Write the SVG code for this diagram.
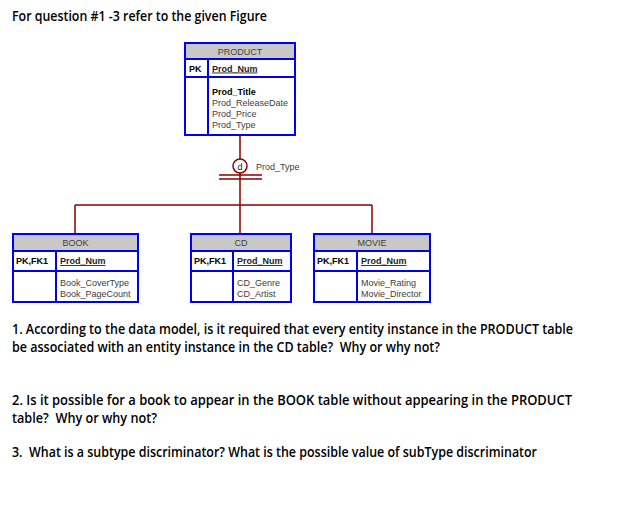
<svg xmlns="http://www.w3.org/2000/svg" width="624" height="522" viewBox="0 0 624 522">
<style>
.q{font-family:"Open Sans","Liberation Sans",sans-serif;font-weight:600;font-size:13.5px;fill:#000;white-space:pre}
.box{fill:#fff;stroke:#0000ee;stroke-width:2}
.hdr{fill:#c8c8c8;stroke:#0000ee;stroke-width:2}
.sep{stroke:#0000ee;stroke-width:2;fill:none}
.t{font-family:"Liberation Sans",Arial,sans-serif;font-size:9px;fill:#404040}
.h{font-family:"Liberation Sans",Arial,sans-serif;font-size:9px;fill:#404040;text-anchor:middle}
.k{font-family:"Liberation Sans",Arial,sans-serif;font-size:9px;font-weight:bold;fill:#000}
.u{font-family:"Liberation Sans",Arial,sans-serif;font-size:9px;font-weight:bold;fill:#222;text-decoration:underline}
.ln{stroke:#8b0000;stroke-width:1.5;fill:none}
</style>
<rect width="624" height="522" fill="#fff"/>
<text class="q" x="12" y="21" textLength="255" lengthAdjust="spacingAndGlyphs">For question #1 -3 refer to the given Figure</text>

<g id="connectors">
<line class="ln" x1="240" y1="135" x2="240" y2="159"/>
<line class="ln" x1="240" y1="173" x2="240" y2="234"/>
<circle class="ln" cx="240" cy="166" r="7" fill="#fff"/>
<line class="ln" x1="219" y1="175" x2="262" y2="175"/>
<line class="ln" x1="219" y1="179" x2="262" y2="179"/>
<line class="ln" x1="75" y1="205" x2="372" y2="205"/>
<line class="ln" x1="75" y1="205" x2="75" y2="234"/>
<line class="ln" x1="372" y1="205" x2="372" y2="234"/>
<text x="240" y="169.5" font-family="Liberation Sans, Arial, sans-serif" font-size="9" fill="#222" text-anchor="middle">d</text>
<text class="t" x="256" y="170">Prod_Type</text>
</g>

<g id="product">
<rect class="box" x="185" y="43" width="110" height="92"/>
<rect class="hdr" x="185" y="43" width="110" height="16"/>
<line class="sep" x1="185" y1="77" x2="295" y2="77"/>
<line class="sep" x1="208" y1="59" x2="208" y2="135"/>
<text class="h" x="240" y="54.5">PRODUCT</text>
<text class="k" x="189" y="71.5">PK</text>
<text class="u" x="212" y="71.5">Prod_Num</text>
<text class="k" x="212" y="95">Prod_Title</text>
<text class="t" x="212" y="106">Prod_ReleaseDate</text>
<text class="t" x="212" y="117">Prod_Price</text>
<text class="t" x="212" y="128">Prod_Type</text>
</g>

<g id="book">
<rect class="box" x="13" y="234" width="125" height="68"/>
<rect class="hdr" x="13" y="234" width="125" height="17"/>
<line class="sep" x1="13" y1="271" x2="138" y2="271"/>
<line class="sep" x1="56" y1="251" x2="56" y2="302"/>
<text class="h" x="75.5" y="245.5">BOOK</text>
<text class="k" x="16" y="264">PK,FK1</text>
<text class="u" x="60" y="264">Prod_Num</text>
<text class="t" x="60" y="286">Book_CoverType</text>
<text class="t" x="60" y="297">Book_PageCount</text>
</g>

<g id="cd">
<rect class="box" x="191" y="234" width="100" height="68"/>
<rect class="hdr" x="191" y="234" width="100" height="17"/>
<line class="sep" x1="191" y1="271" x2="291" y2="271"/>
<line class="sep" x1="233" y1="251" x2="233" y2="302"/>
<text class="h" x="241" y="245.5">CD</text>
<text class="k" x="194" y="264">PK,FK1</text>
<text class="u" x="237" y="264">Prod_Num</text>
<text class="t" x="237" y="286">CD_Genre</text>
<text class="t" x="237" y="297">CD_Artist</text>
</g>

<g id="movie">
<rect class="box" x="314" y="234" width="116" height="68"/>
<rect class="hdr" x="314" y="234" width="116" height="17"/>
<line class="sep" x1="314" y1="271" x2="430" y2="271"/>
<line class="sep" x1="357" y1="251" x2="357" y2="302"/>
<text class="h" x="372" y="245.5">MOVIE</text>
<text class="k" x="317" y="264">PK,FK1</text>
<text class="u" x="361" y="264">Prod_Num</text>
<text class="t" x="361" y="286">Movie_Rating</text>
<text class="t" x="361" y="297">Movie_Director</text>
</g>

<text class="q" x="12" y="334" textLength="561" lengthAdjust="spacingAndGlyphs">1. According to the data model, is it required that every entity instance in the PRODUCT table</text>
<text class="q" x="12" y="352" textLength="428" lengthAdjust="spacingAndGlyphs" xml:space="preserve">be associated with an entity instance in the CD table?  Why or why not?</text>
<text class="q" x="12" y="405" textLength="560" lengthAdjust="spacingAndGlyphs">2. Is it possible for a book to appear in the BOOK table without appearing in the PRODUCT</text>
<text class="q" x="12" y="423" textLength="145" lengthAdjust="spacingAndGlyphs" xml:space="preserve">table?  Why or why not?</text>
<text class="q" x="12" y="457" textLength="525" lengthAdjust="spacingAndGlyphs" xml:space="preserve">3.  What is a subtype discriminator? What is the possible value of subType discriminator</text>
</svg>
